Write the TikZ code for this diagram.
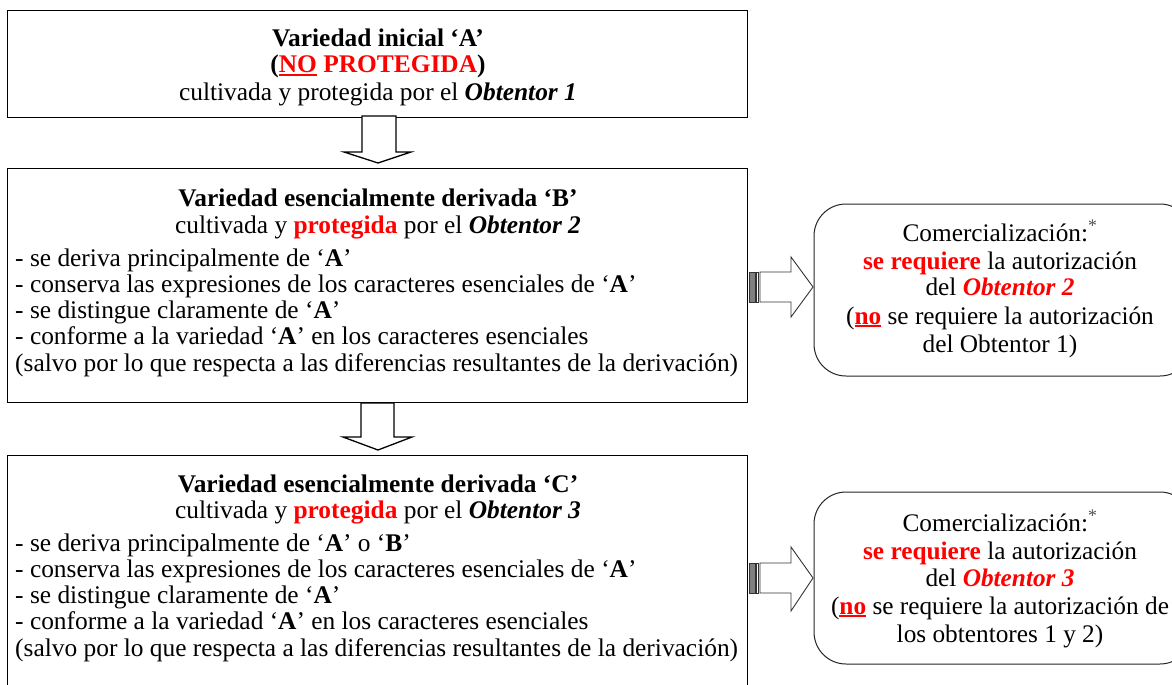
\documentclass[tikz,border=0pt]{standalone}
\usepackage{fontspec}
\setmainfont{Liberation Serif}
\definecolor{redA}{RGB}{255,0,0}
\definecolor{stripeg}{RGB}{128,128,128}
\newcommand\redul[1]{\setbox0\hbox{#1}\rlap{\color{redA}\rule[-3.4pt]{\wd0}{2.6pt}}\box0\relax}
\begin{document}
\begin{tikzpicture}[x=1pt,y=-1pt,
  boxL/.style={draw=black,line width=1.3pt,rectangle,inner sep=0pt,anchor=north west},
  boxR/.style={draw=black!85,line width=1pt,rounded corners=32pt},
  ln/.style={anchor=base,inner sep=0pt,font=\fontsize{25.4}{27}\selectfont},
  li/.style={anchor=base west,inner sep=0pt,font=\fontsize{25.4}{27}\selectfont},
  lr/.style={anchor=base,inner sep=0pt,font=\fontsize{25.3}{28}\selectfont},
  downarr/.style={draw=black,line width=1.3pt,fill=white,line join=miter},
  rightarr/.style={draw=black!80,line width=0.9pt,fill=white},
  stripe/.style={draw=black!80,line width=0.7pt,fill=stripeg}]
\useasboundingbox (0,0) rectangle (1172,685);
% boxes
\node[boxL,minimum width=740pt,minimum height=107pt] (A) at (7,10) {};
\node[boxL,minimum width=740pt,minimum height=234pt] (B) at (7,168) {};
\node[boxL,minimum width=740pt,minimum height=240pt] (C) at (7,455) {};
\draw[boxR] (814,204) rectangle (1192,376);
\draw[boxR] (814,492) rectangle (1192,664);
% text box A
\node[ln] (a1) at (378,47) {\bfseries Variedad inicial ‘A’};
\node[ln] (a2) at (378,73) {\bfseries (\textcolor{redA}{\redul{NO} PROTEGIDA})};
\node[ln] (a3) at (378,100) {cultivada y protegida por el \textbf{\textit{Obtentor 1}}};
% text box B
\node[ln] (b1) at (378,206) {\bfseries Variedad esencialmente derivada ‘B’};
\node[ln] (b2) at (378,233) {cultivada y \textcolor{redA}{\textbf{protegida}} por el \textbf{\textit{Obtentor 2}}};
\node[li] (b3) at (15,266) {- se deriva principalmente de ‘\textbf{A}’};
\node[li] (b4) at (15,292) {- conserva las expresiones de los caracteres esenciales de ‘\textbf{A}’};
\node[li] (b5) at (15,318) {- se distingue claramente de ‘\textbf{A}’};
\node[li] (b6) at (15,344) {- conforme a la variedad ‘\textbf{A}’ en los caracteres esenciales};
\node[li] (b7) at (15,371) {(salvo por lo que respecta a las diferencias resultantes de la derivación)};
% text box C
\node[ln] (c1) at (378,492) {\bfseries Variedad esencialmente derivada ‘C’};
\node[ln] (c2) at (378,518) {cultivada y \textcolor{redA}{\textbf{protegida}} por el \textbf{\textit{Obtentor 3}}};
\node[li] (c3) at (15,551) {- se deriva principalmente de ‘\textbf{A}’ o ‘\textbf{B}’};
\node[li] (c4) at (15,577) {- conserva las expresiones de los caracteres esenciales de ‘\textbf{A}’};
\node[li] (c5) at (15,603) {- se distingue claramente de ‘\textbf{A}’};
\node[li] (c6) at (15,629) {- conforme a la variedad ‘\textbf{A}’ en los caracteres esenciales};
\node[li] (c7) at (15,656) {(salvo por lo que respecta a las diferencias resultantes de la derivación)};
% right box 1
\node[lr] (r11) at (1000,241) {Comercialización:\textsuperscript{\color{black!70}*}};
\node[lr] (r12) at (1000,269) {\textcolor{redA}{\textbf{se requiere}} la autorización};
\node[lr] (r13) at (1000,295) {del \textcolor{redA}{\textbf{\textit{Obtentor 2}}}};
\node[lr] (r14) at (1000,324) {(\textcolor{redA}{\redul{\textbf{no}}} se requiere la autorización};
\node[lr] (r15) at (1000,352) {del Obtentor 1)};
% right box 2
\node[lr] (r21) at (1000,531) {Comercialización:\textsuperscript{\color{black!70}*}};
\node[lr] (r22) at (1000,559) {\textcolor{redA}{\textbf{se requiere}} la autorización};
\node[lr] (r23) at (1000,586) {del \textcolor{redA}{\textbf{\textit{Obtentor 3}}}};
\node[lr] (r24) at (1000,614) {(\textcolor{redA}{\redul{\textbf{no}}} se requiere la autorización de};
\node[lr] (r25) at (1000,642) {los obtentores 1 y 2)};
% down arrows
\coordinate (d1) at (378,116);
\draw[downarr,shift={(d1)}] (-16,0) -- (18,0) -- (18,36) -- (33,36) -- (0,47) -- (-34,36) -- (-16,36) -- cycle;
\coordinate (d2) at (378,403);
\draw[downarr,shift={(d2)}] (-17,0) -- (16,0) -- (16,34) -- (34,34) -- (0,47) -- (-35,34) -- (-17,34) -- cycle;
% right striped arrows
\coordinate (s1) at (749,287);
\draw[stripe,shift={(s1)}] (0,-15) rectangle (6,15);
\draw[rightarr,shift={(s1)}] (7.5,-15) rectangle (9.5,15);
\draw[rightarr,shift={(s1)}] (11,-15) -- (42,-15) -- (42,-30) -- (64,0) -- (42,30) -- (42,15) -- (11,15) -- cycle;
\coordinate (s2) at (749,578);
\draw[stripe,shift={(s2)}] (0,-15) rectangle (6,15);
\draw[rightarr,shift={(s2)}] (7.5,-15) rectangle (9.5,15);
\draw[rightarr,shift={(s2)}] (11,-15) -- (42,-15) -- (42,-31) -- (64,0) -- (42,33) -- (42,15) -- (11,15) -- cycle;
\end{tikzpicture}
\end{document}
